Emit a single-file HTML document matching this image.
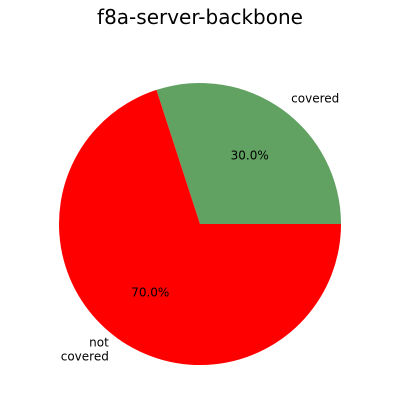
<!DOCTYPE html>
<html><head><meta charset="utf-8">
<style>
html,body{margin:0;padding:0;background:#fff;}
svg{display:block;font-family:"DejaVu Sans","Liberation Sans",sans-serif;}
</style></head>
<body>
<svg id="chart" width="400" height="400" viewBox="0 0 400 400">
<text x="200" y="24" text-anchor="middle" font-size="20" fill="#000">f8a-server-backbone</text>
</svg>
<script>
const labels = ["covered", "not\ncovered"];
const values = [30, 70];
const colors = ["#61a262", "#ff0000"];
const sliceNames = ["slice-covered", "slice-not-covered"];

const svg = document.getElementById('chart');
const NS = 'http://www.w3.org/2000/svg';
const cx = 200, cy = 224, r = 141;
const total = values.reduce((a, b) => a + b, 0);
function pt(angDeg, rad) {
  const a = angDeg * Math.PI / 180;
  return [cx + rad * Math.cos(a), cy - rad * Math.sin(a)];
}
let start = 0;
values.forEach((v, i) => {
  const sweep = v / total * 360;
  const end = start + sweep;
  const [x1, y1] = pt(start, r);
  const [x2, y2] = pt(end, r);
  const large = sweep > 180 ? 1 : 0;
  const p = document.createElementNS(NS, 'path');
  p.setAttribute('d', `M${cx},${cy} L${x1},${y1} A${r},${r} 0 ${large} 0 ${x2},${y2} Z`);
  p.setAttribute('fill', colors[i]);
  
  
  svg.appendChild(p);

  const mid = start + sweep / 2;
  const [lx, ly] = pt(mid, r * 1.1);
  const lines = labels[i].split('\n');
  const t = document.createElementNS(NS, 'text');
  const cos = Math.cos(mid * Math.PI / 180);
  t.setAttribute('text-anchor', cos >= 0 ? 'start' : 'end');
  t.setAttribute('font-size', '12');
  t.setAttribute('fill', '#000');
  
  
  const lh = 14;
  const y0 = ly - (lines.length - 1) * lh / 2 + 4;
  lines.forEach((ln, k) => {
    const ts = document.createElementNS(NS, 'tspan');
    ts.setAttribute('x', lx);
    ts.setAttribute('y', y0 + k * lh);
    ts.textContent = ln;
    t.appendChild(ts);
  });
  svg.appendChild(t);

  const [px, py] = pt(mid, r * 0.6);
  const pt2 = document.createElementNS(NS, 'text');
  pt2.setAttribute('x', px);
  pt2.setAttribute('y', py + 4);
  pt2.setAttribute('text-anchor', 'middle');
  pt2.setAttribute('font-size', '12');
  pt2.setAttribute('fill', '#000');
  
  
  pt2.textContent = (v / total * 100).toFixed(1) + '%';
  svg.appendChild(pt2);
  start = end;
});
</script>
</body></html>
